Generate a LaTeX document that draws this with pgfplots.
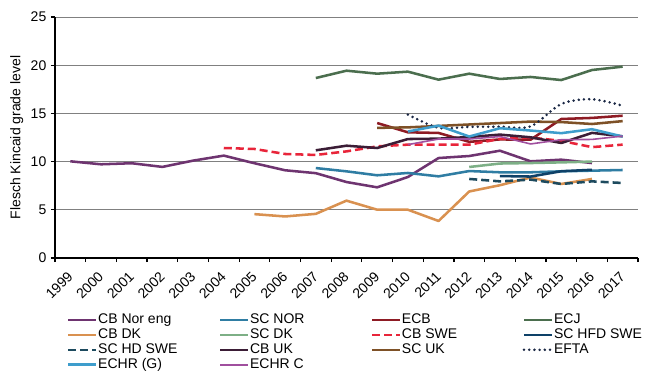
\documentclass[border=0pt]{standalone}
\usepackage{pgfplots}
\pgfplotsset{compat=1.18}
\usepackage{fontspec}
\setmainfont{Liberation Sans}
\definecolor{cNor}{HTML}{6E3470}
\definecolor{cSCNOR}{HTML}{2F7DA3}
\definecolor{cECB}{HTML}{8E1B24}
\definecolor{cECJ}{HTML}{4B6E4E}
\definecolor{cDK}{HTML}{D99150}
\definecolor{cSCDK}{HTML}{7DAF86}
\definecolor{cSWE}{HTML}{E8253A}
\definecolor{cHFD}{HTML}{0E4168}
\definecolor{cHD}{HTML}{1D4A5E}
\definecolor{cUK}{HTML}{3B1D36}
\definecolor{cSCUK}{HTML}{7E5127}
\definecolor{cEFTA}{HTML}{1A2744}
\definecolor{cECHRG}{HTML}{3E9DCC}
\definecolor{cECHRC}{HTML}{A04F9E}
\newcommand{\lgent}[1]{\makebox[90pt][l]{#1}}
\begin{document}
\begin{tikzpicture}
\begin{axis}[
  scale only axis, width=437.25pt, height=180.75pt,
  xmin=-0.5, xmax=18.5, ymin=0, ymax=25,
  axis x line*=bottom, axis y line*=left,
  axis line style={black, line width=1.4pt},
  ytick={0,5,...,25},
  ymajorgrids, major grid style={color=black!50, line width=0.7pt},
  xtick={-0.5,0.5,...,18.5}, xticklabels={},
  extra x ticks={0,...,18},
  extra x tick labels={1999,2000,2001,2002,2003,2004,2005,2006,2007,2008,2009,2010,2011,2012,2013,2014,2015,2016,2017},
  extra x tick style={major tick length=0pt, xticklabel style={rotate=45, anchor=east, inner sep=0pt}, xticklabel shift=12pt},
  tick align=outside, major tick length=3pt,
  tick style={black, line width=0.9pt},
  ticklabel style={font=\fontsize{10.5}{12}\selectfont},
  /pgf/number format/assume math mode=true,
  ylabel={Flesch Kincaid grade level},
  every axis y label/.style={at={(axis description cs:-0.0772,0.5)}, rotate=90, anchor=north, inner sep=0pt, font=\fontsize{10.5}{12}\selectfont},
  legend columns=4,
  legend style={at={(axis description cs:0.0206,-0.226)}, anchor=north west, draw=none, inner sep=0pt, outer sep=0pt,
    row sep=0pt, font=\fontsize{10.5}{12}\selectfont,
    nodes={inner sep=0.5pt, text height=8pt, text depth=2.2pt},
    /tikz/every even column/.append style={column sep=0pt}},
  legend cell align=left,
  legend image code/.code={\draw[#1] (0pt,0pt) -- (21pt,0pt);},
  every axis plot/.append style={line width=1.9pt, line join=round},
]
\addplot[cNor] coordinates {(0,10.03)(1,9.72)(2,9.83)(3,9.45)(4,10.1)(5,10.62)(6,9.83)(7,9.1)(8,8.8)(9,7.88)(10,7.33)(11,8.4)(12,10.37)(13,10.58)(14,11.13)(15,10.03)(16,10.2)(17,9.85)};
\addlegendentry{\lgent{CB Nor eng}}
\addplot[cSCNOR] coordinates {(8,9.33)(9,8.99)(10,8.58)(11,8.82)(12,8.47)(13,9.02)(14,8.89)(15,8.89)(16,8.99)(17,9.06)(18,9.13)};
\addlegendentry{\lgent{SC NOR}}
\addplot[cECB] coordinates {(10,14.0)(11,13.04)(12,12.97)(13,12.05)(14,12.3)(15,12.27)(16,14.42)(17,14.53)(18,14.76)};
\addlegendentry{\lgent{ECB}}
\addplot[cECJ] coordinates {(8,18.67)(9,19.43)(10,19.12)(11,19.33)(12,18.5)(13,19.12)(14,18.57)(15,18.78)(16,18.46)(17,19.5)(18,19.85)};
\addlegendentry{\lgent{ECJ}}
\addplot[cDK] coordinates {(6,4.55)(7,4.31)(8,4.58)(9,5.95)(10,5.01)(11,5.01)(12,3.84)(13,6.9)(14,7.55)(15,8.35)(16,7.68)(17,8.2)};
\addlegendentry{\lgent{CB DK}}
\addplot[cSCDK] coordinates {(13,9.44)(14,9.8)(15,9.85)(16,9.92)(17,10.0)};
\addlegendentry{\lgent{SC DK}}
\addplot[cSWE, dash pattern=on 6pt off 3pt] coordinates {(5,11.41)(6,11.31)(7,10.79)(8,10.69)(9,11.06)(10,11.58)(11,11.76)(12,11.76)(13,11.76)(14,12.35)(15,12.5)(16,12.15)(17,11.5)(18,11.76)};
\addlegendentry{\lgent{CB SWE}}
\addplot[cHFD] coordinates {(14,8.5)(15,8.45)(16,9.0)(17,9.15)};
\addlegendentry{\lgent{SC HFD SWE}}
\addplot[cHD, dash pattern=on 6pt off 3pt] coordinates {(13,8.2)(14,7.95)(15,8.13)(16,7.68)(17,7.95)(18,7.78)};
\addlegendentry{\lgent{SC HD SWE}}
\addplot[cUK] coordinates {(8,11.17)(9,11.65)(10,11.41)(11,12.34)(12,12.38)(13,12.55)(14,12.8)(15,12.52)(16,11.93)(17,12.98)(18,12.62)};
\addlegendentry{\lgent{CB UK}}
\addplot[cSCUK] coordinates {(10,13.5)(11,13.55)(12,13.7)(13,13.85)(14,14.0)(15,14.15)(16,14.1)(17,13.9)(18,14.2)};
\addlegendentry{\lgent{SC UK}}
\addplot[cEFTA, smooth, line width=2.1pt, line cap=round, dash pattern=on 0pt off 3.9pt] coordinates {(11,14.88)(12,13.5)(13,13.6)(14,13.62)(15,13.65)(16,15.98)(17,16.47)(18,15.8)};
\addlegendentry{\lgent{EFTA}}
\addplot[cECHRG] coordinates {(11,13.12)(12,13.73)(13,12.6)(14,13.46)(15,13.22)(16,12.95)(17,13.36)(18,12.6)};
\addlegendentry{\lgent{ECHR (G)}}
\addplot[cECHRC, line width=1.2pt] coordinates {(11,11.76)(12,12.34)(13,12.34)(14,12.6)(15,11.83)(16,12.27)(17,12.3)(18,12.65)};
\addlegendentry{\lgent{ECHR C}}
\end{axis}
\pgfresetboundingbox
\path[use as bounding box] (-41.25pt,-92.25pt) rectangle (447.75pt,193.5pt);
\end{tikzpicture}
\end{document}
